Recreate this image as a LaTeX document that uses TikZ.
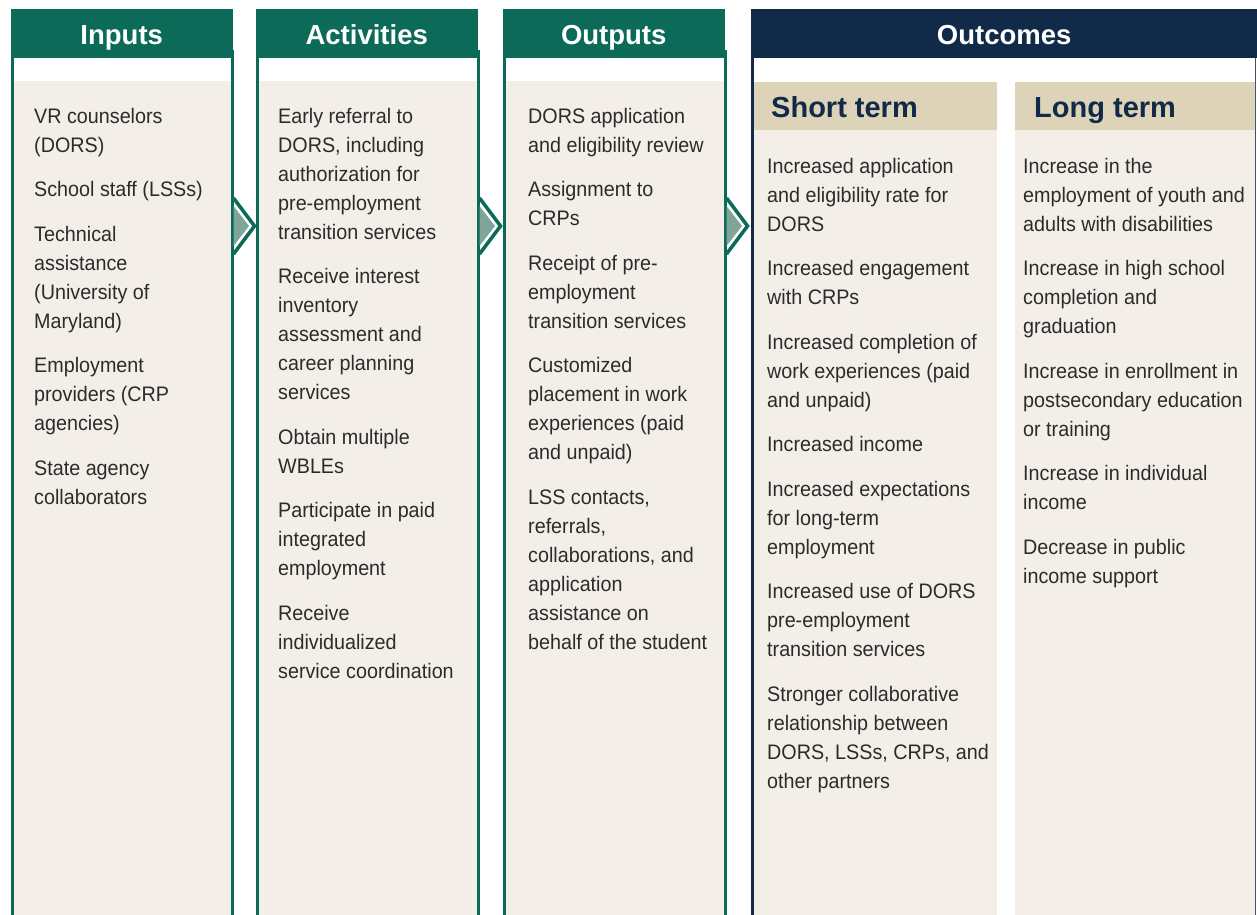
\documentclass[tikz,border=0pt]{standalone}
\usepackage{fontspec}
\setmainfont{Liberation Sans}
\newfontfamily\bodyfont{Liberation Sans}[FakeStretch=0.94]
\definecolor{lmteal}{HTML}{0B6B58}
\definecolor{lmnavy}{HTML}{102A48}
\definecolor{lmbeige}{HTML}{F3EFE8}
\definecolor{lmtan}{HTML}{DDD3B8}
\definecolor{lmarrow}{HTML}{7FA598}
\definecolor{lmtext}{HTML}{2B2B2B}
\begin{document}
\begin{tikzpicture}[x=1pt,y=-1pt,
  colhead/.style={anchor=north west, inner sep=0, minimum height=49pt,
    text height=21pt, text depth=0pt,
    text=white, font=\fontsize{27.5}{30}\selectfont\bfseries},
  subhead/.style={anchor=base west, inner sep=0, text=lmnavy,
    font=\fontsize{29}{30}\selectfont\bfseries},
  itemtext/.style={anchor=north west, inner sep=0, align=left, text=lmtext,
    font=\bodyfont\fontsize{21}{29}\selectfont},
  border/.style={line width=3pt},
  chevron/.style={lmteal, line width=3.5pt},
]
\useasboundingbox (0,0) rectangle (1257,914);
\fill[white] (0,0) rectangle (1257,914);

% ---- column bodies ----
\foreach \l/\r in {12/232, 257/478, 504/725} {
  \fill[lmbeige] (\l,81) rectangle (\r,920);
  \draw[border, lmteal] (\l,50) -- (\l,920);
  \draw[border, lmteal] (\r,50) -- (\r,920);
}
% outcomes frame
\draw[border, lmnavy] (752.5,50) -- (752.5,920);
\draw[lmnavy!80, line width=1.5pt] (1255.5,50) -- (1255.5,920);
\fill[lmtan]   (754,82)  rectangle (997,130);
\fill[lmbeige] (754,130) rectangle (997,920);
\fill[lmtan]   (1015,82) rectangle (1254.5,130);
\fill[lmbeige] (1015,130) rectangle (1254.5,920);

% ---- headers ----
\node[colhead, fill=lmteal, minimum width=222pt] (inputs) at (10.5,9) {Inputs};
\node[colhead, fill=lmteal, minimum width=222pt] (activities) at (255.5,9) {Activities};
\node[colhead, fill=lmteal, minimum width=222pt] (outputs) at (502.5,9) {Outputs};
\node[colhead, fill=lmnavy, minimum width=506pt] (outcomes) at (751,9) {Outcomes};

\node[subhead] (short) at (771,117) {Short term};
\node[subhead] (long)  at (1034,117) {Long term};

% ---- chevrons between columns ----
\foreach \x in {233.5, 479.5, 726.5} {
  \fill[lmarrow] (\x,206) -- (\x+15.5,226) -- (\x,246) -- cycle;
  \draw[chevron] (\x,198) -- (\x+21,226) -- (\x,254);
}

% ---- column texts ----
\node[itemtext] (inputsText) at (34,102.7) {\strut VR counselors\\(DORS)\\[15.5pt]
School staff (LSSs)\\[15.5pt]
Technical\\assistance\\(University of\\Maryland)\\[15.5pt]
Employment\\providers (CRP\\agencies)\\[15.5pt]
State agency\\collaborators};

\node[itemtext] (activitiesText) at (278,102.7) {\strut Early referral to\\DORS, including\\authorization for\\pre-employment\\transition services\\[15.5pt]
Receive interest\\inventory\\assessment and\\career planning\\services\\[15.5pt]
Obtain multiple\\WBLEs\\[15.5pt]
Participate in paid\\integrated\\employment\\[15.5pt]
Receive\\individualized\\service coordination};

\node[itemtext] (outputsText) at (528,102.7) {\strut DORS application\\and eligibility review\\[15.5pt]
Assignment to\\CRPs\\[15.5pt]
Receipt of pre-\\employment\\transition services\\[15.5pt]
Customized\\placement in work\\experiences (paid\\and unpaid)\\[15.5pt]
LSS contacts,\\referrals,\\collaborations, and\\application\\assistance on\\behalf of the student};

\node[itemtext] (shortText) at (767,152.7) {\strut Increased application\\and eligibility rate for\\DORS\\[15.5pt]
Increased engagement\\with CRPs\\[15.5pt]
Increased completion of\\work experiences (paid\\and unpaid)\\[15.5pt]
Increased income\\[15.5pt]
Increased expectations\\for long-term\\employment\\[15.5pt]
Increased use of DORS\\pre-employment\\transition services\\[15.5pt]
Stronger collaborative\\relationship between\\DORS, LSSs, CRPs, and\\other partners};

\node[itemtext] (longText) at (1023,152.7) {\strut Increase in the\\employment of youth and\\adults with disabilities\\[15.5pt]
Increase in high school\\completion and\\graduation\\[15.5pt]
Increase in enrollment in\\postsecondary education\\or training\\[15.5pt]
Increase in individual\\income\\[15.5pt]
Decrease in public\\income support};
\end{tikzpicture}
\end{document}
